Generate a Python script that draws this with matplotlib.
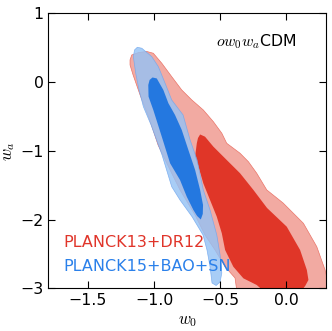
import matplotlib
matplotlib.use('Agg')
import matplotlib.pyplot as plt

plt.rcParams['mathtext.fontset'] = 'cm'

# contour outlines (w0, wa)
red68_w0 = [-0.652, -0.615, -0.552, -0.451, -0.350, -0.249, -0.146, 0.003, 0.104, 0.155,
            0.167, 0.142, 0.104, -0.160, -0.224, -0.325, -0.401, -0.463, -0.488, -0.526,
            -0.577, -0.628, -0.668, -0.690, -0.677, -0.668]
red68_wa = [-0.763, -0.795, -0.940, -1.134, -1.327, -1.570, -1.832, -2.104, -2.443, -2.734,
            -2.879, -2.967, -3.06, -3.06, -2.952, -2.855, -2.686, -2.443, -2.200, -1.959,
            -1.716, -1.473, -1.207, -1.086, -0.891, -0.814]

red95_w0 = [-1.182, -1.169, -1.119, -1.056, -1.006, -0.942, -0.867, -0.791, -0.715, -0.628,
            -0.552, -0.488, -0.451, -0.350, -0.287, -0.224, -0.148, -0.025, 0.129, 0.230,
            0.293, 0.34, 0.2, -0.37, -0.388, -0.463, -0.539, -0.615, -0.690, -0.804,
            -0.879, -0.970, -1.038, -1.106, -1.159, -1.182]
red95_wa = [0.321, 0.393, 0.427, 0.444, 0.418, 0.273, 0.078, -0.116, -0.261, -0.407,
            -0.577, -0.745, -0.891, -1.036, -1.159, -1.327, -1.570, -1.759, -2.055, -2.395,
            -2.734, -3.1, -3.15, -3.1, -2.850, -2.686, -2.443, -2.225, -1.934, -1.570,
            -1.279, -0.916, -0.523, -0.188, 0.103, 0.248]

blue68_w0 = [-1.012, -0.980, -0.930, -0.892, -0.842, -0.791, -0.741, -0.690, -0.652, -0.630,
             -0.632, -0.647, -0.675, -0.703, -0.753, -0.804, -0.879, -0.942, -1.006, -1.042,
             -1.044, -1.034]
blue68_wa = [0.066, 0.052, -0.116, -0.309, -0.479, -0.697, -0.988, -1.279, -1.570, -1.788,
             -1.919, -1.999, -1.948, -1.861, -1.668, -1.425, -1.182, -0.795, -0.407, -0.213,
             -0.043, 0.030]

blue95_w0 = [-1.127, -1.093, -1.018, -0.968, -0.917, -0.867, -0.781, -0.728, -0.675, -0.628,
             -0.577, -0.526, -0.501, -0.488, -0.501, -0.531, -0.562, -0.577, -0.600, -0.630,
             -0.713, -0.804, -0.867, -0.940, -1.023, -1.081, -1.114, -1.139, -1.157, -1.148]
blue95_wa = [0.505, 0.491, 0.369, 0.223, -0.018, -0.261, -0.479, -0.843, -1.134, -1.570,
             -1.861, -2.225, -2.516, -2.777, -2.908, -2.959, -2.923, -2.686, -2.443, -2.225,
             -1.959, -1.716, -1.522, -1.061, -0.625, -0.359, -0.116, 0.127, 0.369, 0.466]

labels = ['PLANCK13+DR12', 'PLANCK15+BAO+SN']

fig = plt.figure(figsize=(3.32, 3.31), dpi=100)
ax = fig.add_axes([0.1455, 0.129, 0.8365, 0.831])

ax.fill(red95_w0, red95_wa, facecolor='#f2aaa2', edgecolor='#ea7468', lw=0.5)
ax.fill(red68_w0, red68_wa, facecolor='#e03628', edgecolor='none')
ax.fill(blue95_w0, blue95_wa, facecolor='#95c2f5', alpha=0.82, edgecolor='#6fa6ee', lw=0.5)
ax.fill(blue68_w0, blue68_wa, facecolor='#2478e0', edgecolor='none')

ax.set_xlim(-1.8, 0.3)
ax.set_ylim(-3, 1)
ax.set_xticks([-1.5, -1.0, -0.5, 0.0])
ax.set_yticks([-3, -2, -1, 0, 1])
ax.tick_params(direction='in', top=True, right=True, labelsize=11.3, length=5)
ax.set_xlabel(r'$w_0$', fontsize=12, labelpad=2)
ax.set_ylabel(r'$w_a$', fontsize=12, labelpad=2)

ax.text(0.895, 0.896, r'$ow_0w_a$CDM', transform=ax.transAxes, ha='right', va='center', fontsize=11.3)
ax.text(0.053, 0.168, labels[0], color='#e0352a', transform=ax.transAxes, va='center', fontsize=11.5)
ax.text(0.053, 0.081, labels[1], color='#2a80ea', transform=ax.transAxes, va='center', fontsize=11.5)

fig.savefig('out.png', dpi=100)
